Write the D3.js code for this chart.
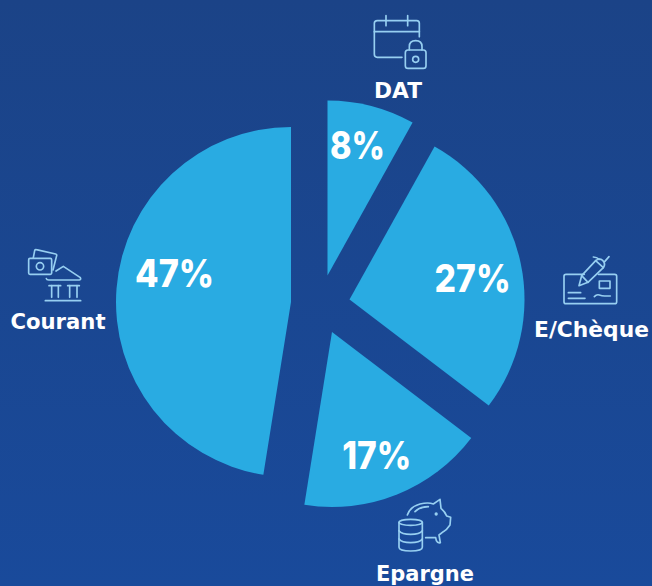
<!DOCTYPE html>
<html>
<head>
<meta charset="utf-8">
<script src="https://cdn.jsdelivr.net/npm/d3@7/dist/d3.min.js"></script>
<style>
  html, body { margin: 0; padding: 0; background: #1b4488; }
  svg { display: block; }
  text { fill: #fff; text-anchor: middle; }
  .share { font-family: "Inter", sans-serif; font-weight: 800; }
  .caption { font-family: "DejaVu Sans", sans-serif; font-weight: 700; }
</style>
</head>
<body>
<svg id="chart" width="652" height="586"></svg>
<script>
// Account mix by product
const categories = ["DAT", "E/Chèque", "Epargne", "Courant"];
const shares = [8, 27, 17, 47];
const shareLabels = ["8%", "27%", "17%", "47%"];

const width = 652, height = 586, radius = 175;
const sliceColor = "#29abe2", iconColor = "#97cff1";

const svg = d3.select("#chart");

const grad = svg.append("defs").append("linearGradient")
  .attr("id", "bg").attr("x1", 0).attr("y1", 0).attr("x2", 0).attr("y2", 1);
grad.append("stop").attr("offset", "0%").attr("stop-color", "#1b4387");
grad.append("stop").attr("offset", "100%").attr("stop-color", "#194a9b");
svg.append("rect").attr("width", width).attr("height", height).attr("fill", "url(#bg)");

// Slice apex after the explode, the percent label's polar spot from that apex
const apexes = [[327.5, 275.5], [349.5, 299.5], [332, 332], [291, 302]];
const labelPolar = [[134, 12.9], [125, 80], [131, 160], [120, 284]];
const labelBaselineShift = 14;

const pie = d3.pie().sort(null)(shares);
const arc = d3.arc().innerRadius(0).outerRadius(radius);

const slices = svg.selectAll("g.slice").data(pie).join("g")
  .attr("class", "slice")
  .attr("transform", (d, i) => `translate(${apexes[i]})`);

slices.append("path").attr("d", arc).attr("fill", sliceColor);

slices.append("text")
  .attr("class", "share")
  .attr("x", (d, i) => labelPolar[i][0] * Math.sin(labelPolar[i][1] * Math.PI / 180))
  .attr("y", (d, i) => -labelPolar[i][0] * Math.cos(labelPolar[i][1] * Math.PI / 180) + labelBaselineShift)
  .attr("font-size", 38)
  .attr("textLength", (d, i) => [55, 76, 69, 79][i])
  .attr("lengthAdjust", "spacingAndGlyphs")
  .text((d, i) => shareLabels[i]);

// Category captions
const captionSpots = [[398, 98], [591.5, 337], [425, 581], [58, 329]];
const captionWidths = [48, 115, 98, 95];
svg.selectAll("text.caption").data(categories).join("text")
  .attr("class", "caption")
  .attr("x", (d, i) => captionSpots[i][0])
  .attr("y", (d, i) => captionSpots[i][1])
  .attr("font-size", 20.5)
  .attr("textLength", (d, i) => captionWidths[i])
  .attr("lengthAdjust", "spacingAndGlyphs")
  .text(d => d);

// Line icons, each drawn on a 3x grid and scaled down into place
const icons = [
  { at: [340, 0], d: [
    "M186,172 H112 Q103,172 103,163 V70 Q103,62 112,62 H230 Q238,62 238,70 V110",
    "M103,95 H238", "M138,47 V77", "M203,47 V77",
    "M204,150 H250 Q258,150 258,158 V197 Q258,205 250,205 H204 Q196,205 196,197 V158 Q196,150 204,150 Z",
    "M208,150 V140 Q208,122 227,122 Q246,122 246,140 V150",
    "M218,178 a9,9 0 1,0 18,0 a9,9 0 1,0 -18,0"
  ]},
  { at: [530, 245], d: [
    "M163,88 H108 Q102,88 102,94 V170 Q102,176 108,176 H254 Q260,176 260,170 V94 Q260,88 254,88 H205",
    "M208,108 H240 V130 H208 Z", "M115,143 H152", "M115,160 H165",
    "M193,155 Q200,147 208,150 T224,153 T241,153",
    "M147,122 L155,92 L197,47 Q208,38 218,46 Q228,56 220,68 L174,112 Z",
    "M155,92 L174,112", "M197,47 L220,68", "M190,36 Q200,36 208,43", "M237,35 L224,50"
  ]},
  { at: [365, 490], d: [
    "M102,97 a35,9 0 1,0 70,0 a35,9 0 1,0 -70,0",
    "M102,97 V172 Q102,183 137,183 Q172,183 172,172 V97",
    "M102,122 Q110,133 137,133 Q164,133 172,122",
    "M102,147 Q110,158 137,158 Q164,158 172,147",
    "M127,75 Q135,50 165,42 Q190,36 205,42 L225,28 L228,55 Q240,65 245,78 L257,82 L255,105 Q245,120 235,125 L222,135 L226,158 Q218,160 214,152 L212,143 L182,143",
    "M150,65 Q165,50 190,50",
    "M211,72 a2.5,2.5 0 1,0 5,0 a2.5,2.5 0 1,0 -5,0"
  ]},
  { at: [0, 235], d: [
    "M100,68 L104,47 Q105,43 109,44 L167,57 Q171,58 170,62 L159,105",
    "M90,70 H151 Q155,70 155,74 V114 Q155,118 151,118 H90 Q86,118 86,114 V74 Q86,70 90,70 Z",
    "M109,94 a11,11 0 1,0 22,0 a11,11 0 1,0 -22,0",
    "M168,108 L190,94 L240,127 Q245,134 238,135 L146,135 Q140,135 139,131",
    "M147,152 H182", "M155,152 V187", "M175,152 V187",
    "M203,152 H238", "M209,152 V187", "M231,152 V187",
    "M136,197 H242"
  ]}
];

const iconGroups = svg.selectAll("g.icon").data(icons).join("g")
  .attr("class", "icon")
  .attr("transform", d => `translate(${d.at}) scale(${1 / 3})`)
  .attr("fill", "none")
  .attr("stroke", iconColor)
  .attr("stroke-width", 5)
  .attr("stroke-linecap", "round")
  .attr("stroke-linejoin", "round");

iconGroups.selectAll("path").data(d => d.d).join("path").attr("d", d => d);
</script>
</body>
</html>
